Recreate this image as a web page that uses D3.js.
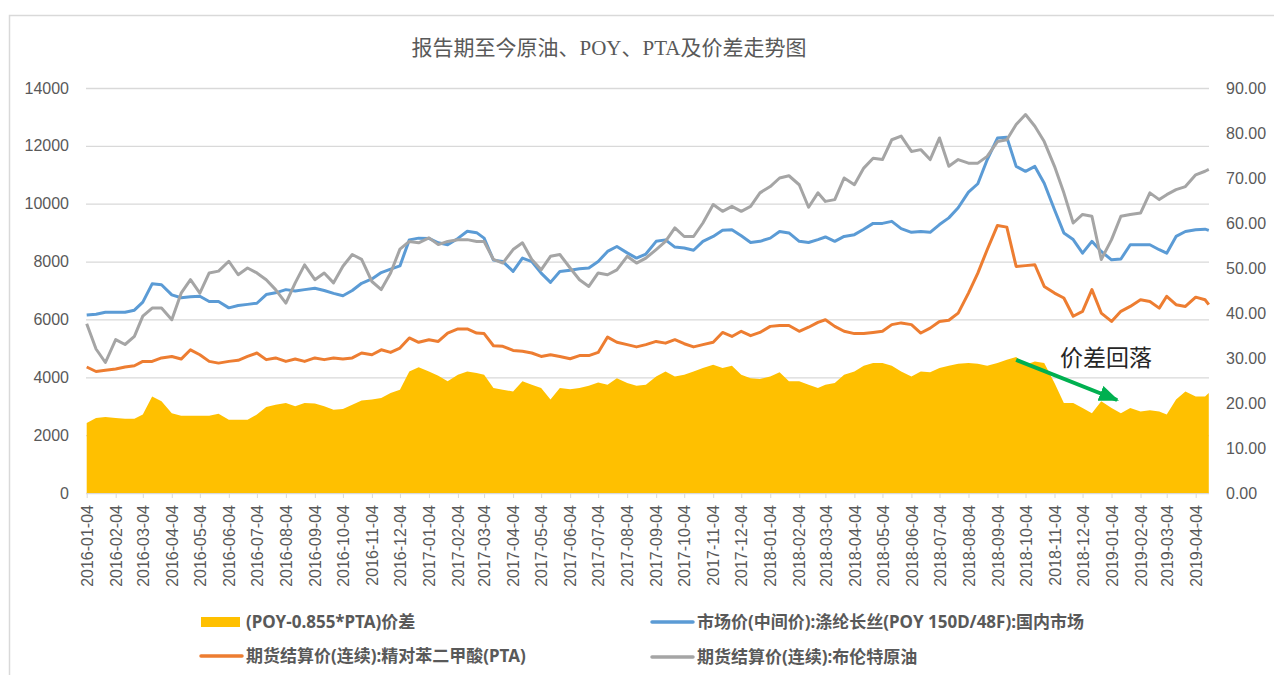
<!DOCTYPE html>
<html>
<head>
<meta charset="utf-8">
<script src="https://cdn.jsdelivr.net/npm/d3@7"></script>
<style>
  body { margin: 0; background: #fff; }
  .axis text { font-family: "Liberation Sans", Arial, sans-serif; font-size: 16px; fill: #595959; }
  .axis line { stroke: #d9d9d9; }
  .legend text { font-family: "Noto Sans", "Noto Sans CJK SC", sans-serif; font-size: 17px; font-weight: bold; fill: #595959; }
</style>
</head>
<body>
<div class="chart"></div>
<script>
/** chart data at the 4th, 14th and 24th of each month */
const dates = [
  "2016-01-04","2016-01-14","2016-01-24","2016-02-04","2016-02-14","2016-02-24","2016-03-04","2016-03-14","2016-03-24",
  "2016-04-04","2016-04-14","2016-04-24","2016-05-04","2016-05-14","2016-05-24","2016-06-04","2016-06-14","2016-06-24",
  "2016-07-04","2016-07-14","2016-07-24","2016-08-04","2016-08-14","2016-08-24","2016-09-04","2016-09-14","2016-09-24",
  "2016-10-04","2016-10-14","2016-10-24","2016-11-04","2016-11-14","2016-11-24","2016-12-04","2016-12-14","2016-12-24",
  "2017-01-04","2017-01-14","2017-01-24","2017-02-04","2017-02-14","2017-02-24","2017-03-04","2017-03-14","2017-03-24",
  "2017-04-04","2017-04-14","2017-04-24","2017-05-04","2017-05-14","2017-05-24","2017-06-04","2017-06-14","2017-06-24",
  "2017-07-04","2017-07-14","2017-07-24","2017-08-04","2017-08-14","2017-08-24","2017-09-04","2017-09-14","2017-09-24",
  "2017-10-04","2017-10-14","2017-10-24","2017-11-04","2017-11-14","2017-11-24","2017-12-04","2017-12-14","2017-12-24",
  "2018-01-04","2018-01-14","2018-01-24","2018-02-04","2018-02-14","2018-02-24","2018-03-04","2018-03-14","2018-03-24",
  "2018-04-04","2018-04-14","2018-04-24","2018-05-04","2018-05-14","2018-05-24","2018-06-04","2018-06-14","2018-06-24",
  "2018-07-04","2018-07-14","2018-07-24","2018-08-04","2018-08-14","2018-08-24","2018-09-04","2018-09-14","2018-09-24",
  "2018-10-04","2018-10-14","2018-10-24","2018-11-04","2018-11-14","2018-11-24","2018-12-04","2018-12-14","2018-12-24",
  "2019-01-04","2019-01-14","2019-01-24","2019-02-04","2019-02-14","2019-02-24","2019-03-04","2019-03-14","2019-03-24",
  "2019-04-04","2019-04-14","2019-04-18"];

// (POY-0.855*PTA) spread, left axis
const spread = [
  2420,2590,2630, 2590,2570,2570, 2710,3340,3170, 2760,2670,2670, 2670,2670,2740, 2530,2530,2530,
  2710,2970,3050, 3110,3000,3110, 3090,3000,2880, 2900,3050,3200, 3230,3280,3460, 3570,4200,4350,
  4200,4055,3860, 4090,4200,4150, 4090,3630,3570, 3510,3860,3740, 3630,3230,3630, 3590,3630,3710,
  3820,3740,3970, 3800,3710,3740, 4030,4200,4030, 4090,4200,4320, 4435,4320,4400, 4090,3970,3940,
  4030,4170,3860, 3860,3740,3630, 3740,3800,4090, 4200,4400,4490, 4490,4400,4200, 4030,4200,4170,
  4320,4400,4470, 4490,4470,4400, 4490,4610,4700, 4435,4550,4490, 3800,3110,3110, 2940,2760,3170,
  2940,2760,2940, 2820,2860,2820, 2710,3230,3510, 3340,3340,3460];

// POY 150D/48F market price, left axis
const poy = [
  6150,6180,6250, 6250,6250,6320, 6600,7230,7200, 6850,6750,6780, 6800,6620,6620, 6400,6480,6520,
  6560,6860,6920, 7030,6980,7030, 7080,7000,6900, 6820,7000,7250, 7400,7620,7740, 7850,8750,8810,
  8800,8650,8580, 8800,9050,9000, 8810,8050,8000, 7660,8120,8000, 7600,7280,7660, 7700,7750,7780,
  8000,8350,8520, 8300,8120,8260, 8700,8750,8500, 8470,8390,8700, 8870,9080,9100, 8890,8660,8700,
  8810,9040,8990, 8700,8660,8760, 8850,8700,8870, 8930,9120,9320, 9320,9390,9140, 9010,9040,9010,
  9280,9510,9860, 10400,10690,11520, 12270,12300,11290, 11120,11290,10710, 9790,8990,8760, 8290,8700,8350,
  8060,8090,8580, 8580,8580,8410, 8290,8870,9040, 9100,9120,9080];

// PTA futures settlement, left axis
const pta = [
  4355,4200,4240, 4285,4355,4400, 4550,4550,4670, 4720,4630,4950, 4780,4550,4490, 4550,4585,4720,
  4840,4610,4670, 4550,4630,4550, 4670,4610,4670, 4630,4670,4840, 4780,4950,4860, 5010,5360,5210,
  5300,5240,5530, 5670,5670,5530, 5510,5090,5070, 4930,4900,4840, 4720,4780,4720, 4640,4750,4750,
  4860,5390,5210, 5130,5050,5130, 5240,5180,5300, 5160,5050,5130, 5210,5550,5410, 5590,5440,5550,
  5760,5790,5790, 5590,5730,5900, 5990,5760,5590, 5510,5510,5550, 5590,5820,5880, 5820,5530,5700,
  5930,5970,6220, 6910,7600,8410, 9250,9190,7830, 7860,7890,7140, 6910,6740,6110, 6280,7030,6220,
  5930,6280,6450, 6680,6620,6390, 6800,6510,6450, 6770,6680,6510];

// Brent futures settlement, right axis
const brent = [
  37.6,32.0,29.0, 34.1,33.0,34.8, 39.3,41.1,41.1, 38.5,44.4,47.4, 44.4,48.9,49.3, 51.5,48.5,50.0,
  48.9,47.4,45.2, 42.2,46.7,50.7, 47.4,48.9,46.7, 50.4,53.0,51.9, 47.0,45.2,48.9, 54.2,55.9,55.6,
  56.7,55.2,55.9, 56.3,56.3,55.9, 55.9,51.9,51.1, 54.1,55.6,51.9, 49.6,52.6,53.0, 50.0,47.4,45.9,
  48.9,48.5,49.6, 52.6,51.1,52.2, 54.1,55.9,58.9, 57.0,57.0,60.0, 64.1,62.6,63.7, 62.6,63.7,66.7,
  68.1,70.0,70.5, 68.5,63.5,66.7, 64.8,65.2,70.0, 68.5,72.2,74.4, 74.1,78.5,79.3, 75.9,76.3,74.1,
  78.9,72.6,74.1, 73.3,73.3,74.8, 78.1,78.5,81.9, 84.1,81.5,78.1, 72.6,66.7,60.0, 61.9,61.5,51.9,
  56.3,61.5,61.9, 62.2,66.7,65.2, 66.3,67.4,68.1, 70.7,71.5,71.9];

const leftTicks = [0, 2000, 4000, 6000, 8000, 10000, 12000, 14000];
const rightTicks = [0, 10, 20, 30, 40, 50, 60, 70, 80, 90];

const titleText = "报告期至今原油、POY、PTA及价差走势图";
const legendLabels = [
  "(POY-0.855*PTA)价差",
  "市场价(中间价):涤纶长丝(POY 150D/48F):国内市场",
  "期货结算价(连续):精对苯二甲酸(PTA)",
  "期货结算价(连续):布伦特原油"];
const seriesColors = ["#ffc000", "#5b9bd5", "#ed7d31", "#a5a5a5"];

// annotation: arrow from the spread peak down to the new year
const noteText = "价差回落";
const notePos = ["2018-11-10", 4390];
const arrowFrom = ["2018-09-24", 4600];
const arrowTo = ["2019-01-10", 3215];

/** set up canvas */
const width = 1274, height = 675;
const svg = d3.select('.chart').append('svg')
    .attr('width', width)
    .attr('height', height);

svg.append('rect')
    .attr('x', 9.5).attr('y', 15.5)
    .attr('width', 1300).attr('height', 700)
    .attr('fill', 'none')
    .attr('stroke', '#d9d9d9')
    .attr('stroke-width', 1.5);

const parse = d3.utcParse('%Y-%m-%d');
const plotLeft = 86, plotRight = 1209, plotTop = 88, plotBottom = 493;

const x = d3.scaleUtc()
    .domain([parse('2016-01-04'), parse('2019-04-04')])
    .range([86.7, 1195.7]);
const yLeft = d3.scaleLinear().domain([0, 14000]).range([plotBottom, plotTop]);
const yRight = d3.scaleLinear().domain([0, 90]).range([plotBottom, plotTop]);

const rows = dates.map((d, i) => ({
  date: parse(d), spread: spread[i], poy: poy[i], pta: pta[i], brent: brent[i]
}));

/** title */
svg.append('text')
    .attr('x', 609)
    .attr('y', 55)
    .attr('text-anchor', 'middle')
    .style('font-family', '"Liberation Serif", "Noto Sans CJK SC", serif')
    .style('font-size', '21px')
    .style('fill', '#595959')
    .text(titleText);

/** left axis with gridlines */
const gLeft = svg.append('g')
    .attr('class', 'axis')
    .attr('transform', `translate(${plotLeft},0)`)
    .call(d3.axisLeft(yLeft)
        .tickValues(leftTicks)
        .tickSize(-(plotRight - plotLeft))
        .tickPadding(17)
        .tickFormat(d3.format('d')));
gLeft.select('.domain').remove();
gLeft.selectAll('line').attr('stroke', '#d9d9d9').attr('stroke-width', 1.3);

/** right axis */
const gRight = svg.append('g')
    .attr('class', 'axis')
    .attr('transform', `translate(${plotRight},0)`)
    .call(d3.axisRight(yRight)
        .tickValues(rightTicks)
        .tickSize(0)
        .tickPadding(17)
        .tickFormat(d3.format('.2f')));
gRight.select('.domain').remove();

/** bottom axis, a tick every month on the 4th */
const monthTicks = d3.utcMonth.range(parse('2016-01-01'), parse('2019-04-02'))
    .map(d => d3.utcDay.offset(d, 3));
const gBottom = svg.append('g')
    .attr('class', 'axis')
    .attr('transform', `translate(0,${plotBottom})`)
    .call(d3.axisBottom(x)
        .tickValues(monthTicks)
        .tickSize(5)
        .tickFormat(d3.utcFormat('%Y-%m-%d')));
gBottom.select('.domain').remove();
gBottom.selectAll('text')
    .attr('transform', 'rotate(-90)')
    .attr('text-anchor', 'end')
    .attr('x', -12)
    .attr('y', 0)
    .attr('dy', '0.35em');

/** spread area */
svg.append('path')
    .datum(rows)
    .attr('fill', seriesColors[0])
    .attr('d', d3.area()
        .x(d => x(d.date))
        .y0(yLeft(0))
        .y1(d => yLeft(d.spread)));

/** lines */
function drawLine(key, scale, color) {
  svg.append('path')
      .datum(rows)
      .attr('fill', 'none')
      .attr('stroke', color)
      .attr('stroke-width', 3)
      .attr('stroke-linejoin', 'round')
      .attr('d', d3.line()
          .x(d => x(d.date))
          .y(d => scale(d[key])));
}
drawLine('poy', yLeft, seriesColors[1]);
drawLine('pta', yLeft, seriesColors[2]);
drawLine('brent', yRight, seriesColors[3]);

/** annotation */
svg.append('defs').append('marker')
    .attr('id', 'arrowHead')
    .attr('markerUnits', 'userSpaceOnUse')
    .attr('markerWidth', 20)
    .attr('markerHeight', 16)
    .attr('refX', 18)
    .attr('refY', 8)
    .attr('orient', 'auto')
    .append('path')
    .attr('d', 'M0,0 L20,8 L0,16 Z')
    .attr('fill', '#00b050');

svg.append('line')
    .attr('x1', x(parse(arrowFrom[0])))
    .attr('y1', yLeft(arrowFrom[1]))
    .attr('x2', x(parse(arrowTo[0])))
    .attr('y2', yLeft(arrowTo[1]))
    .attr('stroke', '#00b050')
    .attr('stroke-width', 4)
    .attr('marker-end', 'url(#arrowHead)');

svg.append('text')
    .attr('x', x(parse(notePos[0])))
    .attr('y', yLeft(notePos[1]))
    .style('font-family', '"Noto Sans CJK SC", sans-serif')
    .style('font-size', '23px')
    .style('fill', '#262626')
    .text(noteText);

/** legend */
const legendPos = [[201, 622], [652, 622], [201, 656], [652, 657]];
const legend = svg.append('g').attr('class', 'legend');
legendLabels.forEach(function (label, i) {
  const [lx, ly] = legendPos[i];
  if (i === 0) {
    legend.append('rect')
        .attr('x', lx).attr('y', ly - 5)
        .attr('width', 39).attr('height', 10)
        .attr('fill', seriesColors[i]);
  } else {
    legend.append('line')
        .attr('x1', lx).attr('x2', lx + 41)
        .attr('y1', ly).attr('y2', ly)
        .attr('stroke', seriesColors[i])
        .attr('stroke-width', 3.5)
        .attr('stroke-linecap', 'round');
  }
  legend.append('text')
      .attr('x', lx + 45)
      .attr('y', ly)
      .attr('dy', '0.35em')
      .text(label);
});
</script>
</body>
</html>
